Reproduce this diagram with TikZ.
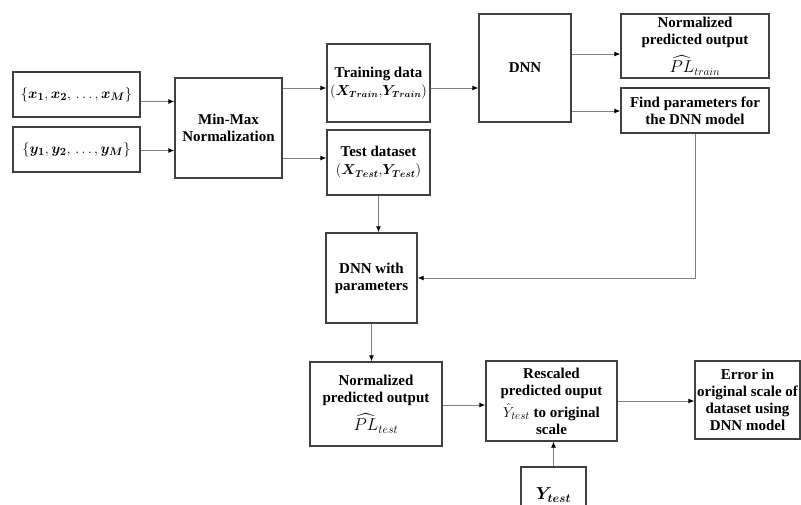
\documentclass[tikz,border=0pt]{standalone}
\usepackage{fontspec}
\setmainfont{Liberation Serif}
\usepackage{amsmath}
\usepackage{bm}
\usetikzlibrary{arrows.meta,calc}
\tikzset{
  blk/.style={draw=black!75, line width=1.4pt, align=center, inner sep=0pt,
    font=\fontsize{15}{17}\selectfont\bfseries, text=black},
  conn/.style={draw=black!50, line width=0.9pt, -{Latex[length=6pt,width=5pt,black]}},
}
\newcommand{\mth}[2][17]{{\fontsize{#1}{#1}\selectfont$#2$}}
\begin{document}
\begin{tikzpicture}[x=1pt,y=-1pt]
\useasboundingbox (0,0) rectangle (801,504);
\begin{scope}
\clip (0,0) rectangle (801,504);
\node[blk, minimum width=127pt, minimum height=45pt] (xs) at (76.5,94.5) {\makebox[110pt]{\mth[15]{\{\bm{x_1}{,}\,\bm{x_2}{,}\,\ldots{,}\,\bm{x_M}\}}}};
\node[blk, minimum width=127pt, minimum height=45pt] (ys) at (76.5,149.5) {\makebox[110pt]{\mth[15]{\{\bm{y_1}{,}\,\bm{y_2}{,}\,\ldots{,}\,\bm{y_M}\}}}};
\node[blk, minimum width=107pt, minimum height=100pt] (mm) at (228.5,128) {Min-Max\\Normalization};
\node[blk, minimum width=103pt, minimum height=78pt] (train) at (378.5,83) {Training data\\[1pt]\makebox[95pt]{\mth[13.5]{(\bm{X_{Train}}{,}\bm{Y_{Train}})}}};
\node[blk, minimum width=103pt, minimum height=65pt] (test) at (378.5,162.5) {Test dataset\\[1pt]\makebox[95pt]{\mth[14]{(\bm{X_{Test}}{,}\bm{Y_{Test}})}}};
\node[blk, minimum width=92pt, minimum height=108pt] (dnn) at (525,68) {DNN};
\node[blk, minimum width=148pt, minimum height=64pt] (npt) at (695,46) {Normalized\\predicted output\\[7pt]\mdseries\mth[16]{\widehat{PL}_{train}}};
\node[blk, minimum width=148pt, minimum height=45pt] (fp) at (695,110.5) {Find parameters for\\the DNN model};
\node[blk, minimum width=91pt, minimum height=90pt] (dnnp) at (371.5,278) {DNN with\\parameters};
\node[blk, minimum width=132pt, minimum height=84pt] (ntest) at (376,404) {Normalized\\predicted output\\[7pt]\mdseries\mth{\widehat{PL}_{test}}};
\node[blk, minimum width=131pt, minimum height=80pt] (resc) at (551.5,401) {Rescaled\\predicted ouput\\[5pt]$\hat{Y}_{test}$ to original\\scale};
\node[blk, minimum width=65pt, minimum height=66pt] (yt) at (553.5,500) {\raisebox{13pt}{\fontsize{18}{20}\selectfont$\bm{Y_{test}}$}};
\node[blk, minimum width=105pt, minimum height=78pt] (err) at (747.5,400) {Error in\\original scale of\\dataset using\\DNN model};
\end{scope}

\draw[conn] ([yshift=-7pt]xs.east) -- ([yshift=-7pt]xs.east -| mm.west);
\draw[conn] ([yshift=-1pt]ys.east) -- ([yshift=-1pt]ys.east -| mm.west);
\coordinate (m1) at (mm.east |- 0,88);
\coordinate (m2) at (mm.east |- 0,158);
\draw[conn] (m1) -- (m1 -| train.west);
\draw[conn] (m2) -- (m2 -| test.west);
\coordinate (t1) at (train.east |- 0,88);
\draw[conn] (t1) -- (t1 -| dnn.west);
\coordinate (d1) at (dnn.east |- 0,54);
\coordinate (d2) at (dnn.east |- 0,111);
\draw[conn] (d1) -- (d1 -| npt.west);
\draw[conn] (d2) -- (d2 -| fp.west);
\draw[conn] (fp.south) -- (fp.south |- dnnp.east) -- (dnnp.east);
\draw[conn] (test.south) -- (test.south |- dnnp.north);
\draw[conn] (dnnp.south) -- (dnnp.south |- ntest.north);
\draw[conn] ([yshift=-1pt]ntest.east) -- ([yshift=-1pt]ntest.east -| resc.west);
\draw[conn] (resc.east) -- (resc.east -| err.west);
\draw[conn] (yt.north) -- (yt.north |- resc.south);
\end{tikzpicture}
\end{document}
